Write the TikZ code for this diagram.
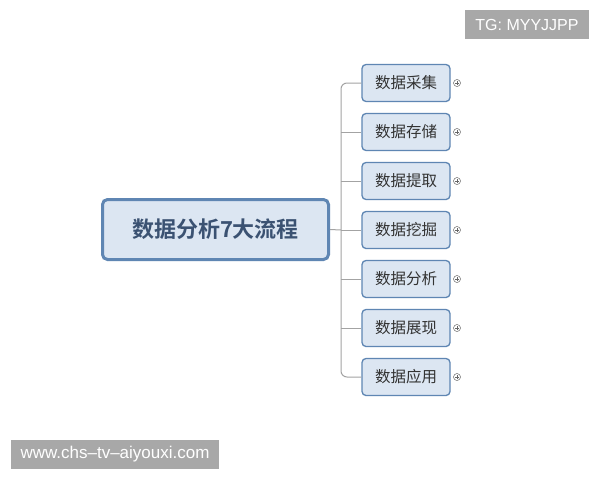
\documentclass[tikz,border=0pt]{standalone}
\usepackage{fontspec}
\setmainfont{Liberation Sans}
\newfontfamily\cjk{Noto Sans CJK SC}[BoldFont={Noto Sans CJK SC Bold}]
\definecolor{boxfill}{HTML}{DCE6F2}
\definecolor{boxline}{HTML}{5F86B3}
\definecolor{maintext}{HTML}{3B5272}
\definecolor{subtext}{HTML}{333333}
\definecolor{linkgray}{HTML}{A3A3A3}
\definecolor{wmgray}{HTML}{A8A8A8}
\tikzset{
  mainbox/.style={draw=boxline, line width=3pt, fill=boxfill, rounded corners=5pt,
    minimum width=226pt, minimum height=60pt, inner sep=0pt,
    font=\cjk\bfseries\fontsize{22}{26}\selectfont, text=maintext},
  subbox/.style={draw=boxline, line width=1.3pt, fill=boxfill, rounded corners=4pt,
    minimum width=88pt, minimum height=37pt, inner sep=0pt,
    font=\cjk\fontsize{15.5}{18}\selectfont, text=subtext},
  link/.style={draw=linkgray, line width=1pt, rounded corners=6pt},
  plusmark/.style={circle, draw=gray!80!black, line width=0.5pt, minimum size=7pt, inner sep=0pt, fill=white},
  wmbox/.style={fill=wmgray, text=white, inner sep=0pt}
}
\begin{document}
\begin{tikzpicture}[x=1pt,y=-1pt]
\useasboundingbox (0,0) rectangle (600,480);
\fill[white] (0,0) rectangle (600,480);
\node[mainbox] (main) at (215.5,229.5) {数据分析7大流程};
\coordinate (trunk) at (341,230);
\foreach \i/\t/\y in {1/数据采集/83,2/数据存储/132,3/数据提取/181,4/数据挖掘/230,5/数据分析/279,6/数据展现/328,7/数据应用/377}{
  \node[subbox] (s\i) at (406,\y) {\t};
  \node[plusmark] (p\i) at (457,\y) {};
  \draw[line width=0.5pt, gray!80!black] ([xshift=-2pt]p\i.center) -- ([xshift=2pt]p\i.center)
     ([yshift=-2pt]p\i.center) -- ([yshift=2pt]p\i.center);
}
\draw[link] (main.east) -- (trunk);
\draw[link] (s1.west) -| (trunk |- s4.west) |- (s7.west);
\foreach \i in {2,3,4,5,6}{
  \draw[link] (trunk |- s\i.west) -- (s\i.west);
}
\node[wmbox, minimum width=124pt, minimum height=29pt, font=\fontsize{16}{18}\selectfont] (tg) at (527,24.5) {TG: MYYJJPP};
\node[wmbox, minimum width=208pt, minimum height=29pt, font=\fontsize{17}{19}\selectfont] (url) at (115,454.5) {www.chs{\char"2013}tv{\char"2013}aiyouxi.com};
\end{tikzpicture}
\end{document}
